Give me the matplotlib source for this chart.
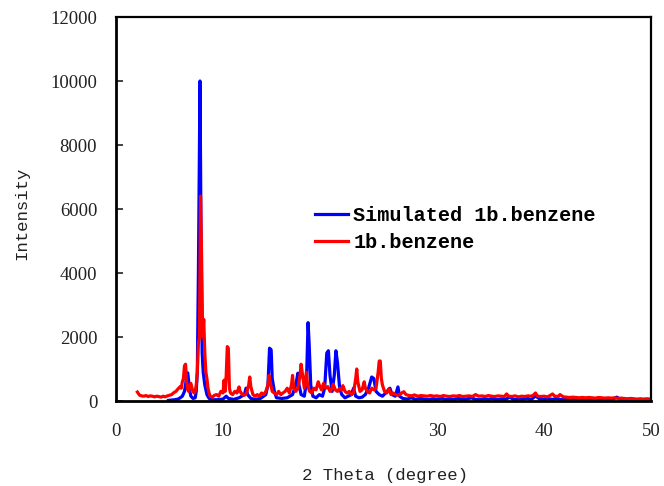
import matplotlib
matplotlib.use("Agg")
import matplotlib.pyplot as plt

# ---- data ----
red_x = [2.0, 2.1, 2.2, 2.4, 2.6, 2.8, 3.0, 3.2, 3.4, 3.6, 3.8, 4.0, 4.2, 4.4, 4.6, 4.8,
         5.0, 5.2, 5.4, 5.6, 5.8, 6.0, 6.1, 6.2, 6.3, 6.4, 6.5, 6.6, 6.7, 6.8, 6.9, 7.0,
         7.1, 7.2, 7.3, 7.4, 7.5, 7.6, 7.7, 7.8, 7.9, 8.0, 8.1, 8.2, 8.3, 8.4, 8.5, 8.6,
         8.7, 8.8, 9.0, 9.2, 9.4, 9.6, 9.8, 10.0, 10.1, 10.2, 10.3, 10.4, 10.5, 10.6, 10.7,
         10.9, 11.1, 11.3, 11.5, 11.6, 11.8, 12.0, 12.2, 12.4, 12.5, 12.6, 12.8, 13.0, 13.2,
         13.4, 13.6, 13.8, 14.0, 14.2, 14.3, 14.4, 14.6, 14.8, 15.0, 15.2, 15.4, 15.6, 15.8,
         16.0, 16.2, 16.4, 16.5, 16.6, 16.8, 17.0, 17.2, 17.3, 17.4, 17.6, 17.8, 17.9, 18.1,
         18.3, 18.5, 18.7, 18.9, 19.0, 19.2, 19.4, 19.6, 19.8, 20.0, 20.2, 20.3, 20.5, 20.7,
         20.9, 21.1, 21.2, 21.4, 21.6, 21.8, 22.0, 22.2, 22.4, 22.5, 22.6, 22.8, 23.0, 23.2,
         23.3, 23.5, 23.7, 23.9, 24.1, 24.3, 24.5, 24.6, 24.7, 24.8, 24.9, 25.1, 25.3, 25.5,
         25.7, 25.9, 26.1, 26.3, 26.5, 26.7, 26.9, 27.1, 27.3, 27.6, 27.9, 28.2, 28.5, 28.8,
         29.1, 29.4, 29.7, 30.0, 30.3, 30.6, 30.9, 31.2, 31.5, 31.8, 32.1, 32.4, 32.7, 33.0,
         33.3, 33.6, 33.9, 34.2, 34.5, 34.8, 35.1, 35.4, 35.7, 36.0, 36.3, 36.5, 36.7, 37.0,
         37.3, 37.6, 37.9, 38.2, 38.5, 38.8, 39.0, 39.2, 39.4, 39.7, 40.0, 40.3, 40.5, 40.8,
         41.0, 41.3, 41.5, 41.8, 42.1, 42.4, 42.7, 43.0, 43.3, 43.6, 43.9, 44.2, 44.5, 44.8,
         45.1, 45.4, 45.7, 46.0, 46.3, 46.6, 46.9, 47.2, 47.5, 47.8, 48.1, 48.4, 48.7, 49.0,
         49.3, 49.6, 50.0]
red_y = [280, 230, 180, 160, 150, 170, 140, 160, 150, 130, 150, 140, 120, 150, 130, 160,
         180, 200, 260, 300, 380, 450, 400, 600, 700, 1100, 1150, 600, 350, 300, 500, 550,
         400, 300, 250, 300, 500, 900, 1800, 2000, 6400, 4500, 2000, 2550, 1500, 900, 700, 400,
         250, 150, 120, 180, 200, 150, 300, 250, 650, 300, 800, 1700, 1650, 400, 250,
         200, 300, 250, 440, 300, 200, 180, 250, 500, 750, 450, 200, 150, 200,
         150, 250, 200, 300, 500, 800, 600, 300, 250, 200, 300, 200, 250, 300,
         400, 250, 500, 800, 400, 300, 400, 800, 1150, 900, 400, 900, 500, 300,
         250, 400, 350, 600, 500, 350, 550, 400, 450, 300, 400, 520, 350, 300,
         400, 350, 480, 300, 250, 300, 200, 250, 700, 1000, 600, 300, 350, 600,
         400, 300, 250, 400, 350, 400, 900, 1250, 1250, 700, 500, 300, 250, 380,
         200, 250, 200, 180, 200, 250, 290, 200, 180, 160, 190, 150, 170, 160,
         150, 170, 150, 160, 140, 170, 150, 140, 160, 150, 170, 140, 150, 160,
         140, 200, 150, 160, 140, 170, 150, 140, 160, 150, 140, 220, 150, 140,
         160, 130, 150, 140, 160, 150, 180, 250, 150, 140, 150, 130, 160, 220,
         150, 140, 200, 130, 120, 110, 120, 110, 100, 110, 100, 110, 100, 90,
         110, 100, 90, 100, 90, 100, 80, 90, 80, 70, 80, 70, 60, 70,
         60, 70, 60]

sim_x = [4.9, 5.2, 5.5, 5.8, 6.0, 6.2, 6.4, 6.5, 6.6, 6.7, 6.8, 6.9, 7.0, 7.2, 7.4, 7.5,
         7.6, 7.7, 7.8, 7.85, 7.95, 8.05, 8.15, 8.3, 8.5, 8.7, 9.0, 9.5, 10.0, 10.3, 10.5,
         11.0, 11.5, 12.0, 12.15, 12.3, 12.6, 13.0, 13.5, 14.0, 14.2, 14.35, 14.5, 14.6, 14.8,
         15.0, 15.5, 16.0, 16.5, 16.8, 17.0, 17.1, 17.3, 17.6, 17.8, 17.95, 18.05, 18.2, 18.4,
         18.7, 19.0, 19.3, 19.5, 19.7, 19.85, 20.0, 20.2, 20.4, 20.55, 20.7, 20.9, 21.1, 21.4,
         21.7, 22.0, 22.2, 22.4, 22.7, 23.0, 23.3, 23.6, 23.9, 24.1, 24.3, 24.6, 24.9, 25.2,
         25.6, 25.8, 26.1, 26.35, 26.5, 26.8, 27.2, 27.6, 28.0, 28.4, 28.8, 29.2, 29.6, 30.0,
         30.4, 30.8, 31.2, 31.6, 32.0, 32.4, 32.8, 33.2, 33.6, 34.0, 34.4, 34.8, 35.2, 35.6,
         36.0, 36.4, 36.8, 37.2, 37.6, 38.0, 38.4, 38.8, 39.2, 39.6, 40.0, 40.4, 40.8, 41.2,
         41.6, 42.0, 42.4, 42.8, 43.2, 43.6, 44.0, 44.4, 44.8, 45.2, 45.6, 46.0, 46.4, 46.8,
         47.2, 47.6, 48.0, 48.4, 48.8, 49.2, 49.6, 50.0]
sim_y = [20, 30, 40, 60, 100, 150, 300, 500, 800, 880, 600, 300, 150, 80, 100, 300,
         900, 4000, 8000, 10000, 5000, 1500, 900, 500, 200, 80, 40, 40, 60, 150, 80,
         50, 100, 200, 400, 200, 80, 50, 80, 200, 500, 1650, 1600, 700, 300,
         100, 80, 100, 200, 500, 870, 500, 200, 150, 600, 2450, 1800, 500, 150,
         100, 200, 150, 400, 1500, 1570, 800, 300, 800, 1570, 1200, 400, 200, 100,
         150, 200, 400, 150, 100, 120, 200, 400, 750, 700, 300, 200, 150, 250,
         400, 200, 150, 440, 150, 80, 60, 100, 50, 80, 60, 40, 70, 50,
         90, 40, 60, 50, 80, 40, 60, 100, 50, 40, 70, 50, 80, 40,
         60, 50, 120, 40, 60, 50, 90, 40, 160, 60, 40, 70, 50, 80,
         40, 60, 40, 60, 50, 40, 60, 40, 50, 40, 60, 40, 50, 120,
         40, 50, 40, 30, 40, 30, 40, 30]

x_ticks = [0, 10, 20, 30, 40, 50]
y_ticks = [0, 2000, 4000, 6000, 8000, 10000, 12000]
series_labels = ["Simulated 1b.benzene", "1b.benzene"]
x_label = "2 Theta (degree)"
y_label = "Intensity"

# ---- figure ----
fig = plt.figure(figsize=(6.64, 4.86), dpi=100)
ax = fig.add_axes([116/664, 1 - 401/486, 535/664, 384/486])

ax.plot(sim_x, sim_y, color="#0000ff", lw=2.3, label=series_labels[0], solid_joinstyle="round")
ax.plot(red_x, red_y, color="#ff0000", lw=2.3, label=series_labels[1], solid_joinstyle="round")

ax.set_xlim(0, 50)
ax.set_ylim(0, 12000)
ax.set_xticks(x_ticks)
ax.set_yticks(y_ticks)

tick_font = {"family": "Liberation Serif", "size": 13.5}
ax.set_xticklabels([str(t) for t in x_ticks], fontdict=tick_font)
ax.set_yticklabels([str(t) for t in y_ticks], fontdict=tick_font)
ax.tick_params(axis="x", length=0, pad=16, colors="#222222")
ax.tick_params(axis="y", direction="in", length=5, width=1.2, pad=13.5, colors="#222222")
for lab in ax.get_xticklabels() + ax.get_yticklabels():
    lab.set_color("#222222")

for side in ["top", "right"]:
    ax.spines[side].set_linewidth(1.6)
for side in ["left", "bottom"]:
    ax.spines[side].set_linewidth(2.0)

ax.set_xlabel(x_label, family="Liberation Mono", size=12.5, color="#222222", va="center")
ax.xaxis.set_label_coords(0.503, -0.193)
ax.set_ylabel(y_label, family="Liberation Mono", size=12.5, color="#222222", va="center")
ax.yaxis.set_label_coords(-0.176, 0.49)

leg = ax.legend(loc="upper left", bbox_to_anchor=(0.372, 0.508), frameon=False,
                prop={"family": "Liberation Mono", "weight": "bold", "size": 14.5},
                handlelength=1.65, handletextpad=0.25, labelspacing=0.4,
                borderpad=0, borderaxespad=0)
for line in leg.get_lines():
    line.set_linewidth(2.3)

fig.savefig("out.png", dpi=100)
